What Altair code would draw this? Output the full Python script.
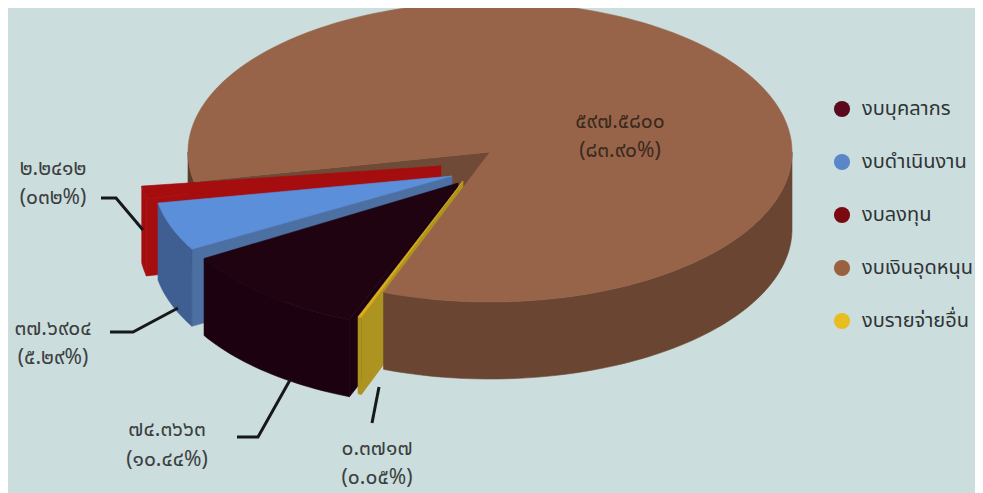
import math
import altair as alt
import pandas as pd

# ---- data ----
CATEGORIES = ["งบบุคลากร", "งบดำเนินงาน", "งบลงทุน", "งบเงินอุดหนุน", "งบรายจ่ายอื่น"]
VALUES = [74.3663, 37.6904, 2.2412, 597.5800, 0.3717]
VALUE_LABELS = ["๗๔.๓๖๖๓", "๓๗.๖๙๐๔", "๒.๒๔๑๒", "๕๙๗.๕๘๐๐", "๐.๓๗๑๗"]
SHARE_LABELS = ["(๑๐.๔๔%)", "(๕.๒๙%)", "(๐๓๒%)", "(๘๓.๙๐%)", "(๐.๐๕%)"]

# ---- styling / layout ----
BG = "#cbdddd"
FONT = "Noto Sans Thai, Noto Sans, Tahoma, sans-serif"
LEGEND_COLORS = ["#5a0a1c", "#5b86c8", "#7a0a10", "#99613f", "#e8bd20"]
W, H = 967, 485
CX, CY, RX, RY, DEPTH = 490, 152, 302, 150, 77
A0 = 11.4   # angle of the pie's notch, measured from the left, turning through the front

TOTAL = sum(VALUES)
SWEEP = {c: 360 * v / TOTAL for c, v in zip(CATEGORIES, VALUES)}

# tip offset, start angle and smallest drawn sweep of each pulled-out slice
SLICES = {
    "งบลงทุน": dict(dx=-49, dy=14, start=7.7, floor=5.0, r=1.0, top="#a60d0f", rim="#a60d0f", wall="#a60d0f"),
    "งบดำเนินงาน": dict(dx=-38, dy=24, start=10.5, floor=0, r=0.99, top="#5b8fd9", rim="#3f5f92", wall="#4d70a3"),
    "งบบุคลากร": dict(dx=-32, dy=31, start=30.9, floor=0, r=0.98, top="#1f0310", rim="#1c0210", wall="#1c0210"),
}
YELLOW = dict(dx=-27, dy=29, start=69.0, floor=0.7, r=0.97, top="#dcae1e", rim="#ad931f", wall="#ad931f")


def pt(cx, cy, a, r=1.0, drop=0):
    t = math.radians(a)
    return (cx - RX * r * math.cos(t), cy + RY * r * math.sin(t) + drop)


def arc(cx, cy, a, b, r=1.0, drop=0):
    n = max(2, int(abs(b - a) / 1.5) + 2)
    return [pt(cx, cy, a + (b - a) * i / (n - 1), r, drop) for i in range(n)]


polys = []  # (points, colour) in drawing order


def wedge_parts(s, name):
    tx, ty = CX + s["dx"], CY + s["dy"]
    a, b = s["start"], s["start"] + max(SWEEP[name], s["floor"])
    end = pt(tx, ty, b, s["r"])
    wall = [(tx, ty), end, (end[0], end[1] + DEPTH), (tx, ty + DEPTH)]
    rim = arc(tx, ty, a, b, s["r"]) + arc(tx, ty, b, a, s["r"], DEPTH)
    top = [(tx, ty)] + arc(tx, ty, a, b, s["r"])
    return wall, rim, top


# brown slice, back parts
brown_start = A0 + (TOTAL - VALUES[3]) / TOTAL * 360
brown_end = A0 + 360
edge = pt(CX, CY, A0)
polys.append(([(CX, CY), edge, (edge[0], edge[1] + DEPTH), (CX, CY + DEPTH)], "#6f4a36"))
polys.append((arc(CX, CY, 0, A0) + arc(CX, CY, A0, 0, 1.0, DEPTH), "#5e3c2a"))

for name in ["งบลงทุน", "งบดำเนินงาน", "งบบุคลากร"]:
    s = SLICES[name]
    wall, rim, top = wedge_parts(s, name)
    polys += [(wall, s["wall"]), (rim, s["rim"]), (top, s["top"])]

ywall, yrim, ytop = wedge_parts(YELLOW, "งบรายจ่ายอื่น")
polys += [(ywall, YELLOW["wall"]), (yrim, YELLOW["rim"])]

# brown rim and top cover the yellow wall's inner part
polys.append((arc(CX, CY, brown_start, 180) + arc(CX, CY, 180, brown_start, 1.0, DEPTH), "#6a4632"))
polys.append(([(CX, CY)] + arc(CX, CY, brown_start, brown_end), "#976449"))
polys.append((ytop, YELLOW["top"]))

x_scale = alt.Scale(domain=[8, 8 + W], range=[0, W], nice=False, zero=False)
y_scale = alt.Scale(domain=[8 + H, 8], range=[H, 0], nice=False, zero=False)
X = alt.X("x:Q", scale=x_scale, axis=None)
Y = alt.Y("y:Q", scale=y_scale, axis=None)

layers = []
for pts, colour in polys:
    df = pd.DataFrame([{"x": p[0], "y": p[1], "o": i} for i, p in enumerate(pts + [pts[0]])])
    layers.append(
        alt.Chart(df)
        .mark_line(fill=colour, stroke=colour, strokeWidth=0.6, interpolate="linear", clip=False)
        .encode(x=X, y=Y, order="o:Q")
    )

# leader lines
LEADERS = [
    [(237, 437), (258, 437), (290, 380)],
    [(110, 332), (133, 332), (178, 308)],
    [(101, 198), (116, 198), (143, 230)],
    [(372, 423), (379, 387)],
]
for line in LEADERS:
    df = pd.DataFrame([{"x": p[0], "y": p[1], "o": i} for i, p in enumerate(line)])
    layers.append(
        alt.Chart(df).mark_line(color="#16181a", strokeWidth=3).encode(x=X, y=Y, order="o:Q")
    )

# value labels
LABEL_POS = [(167, 430, 30), (53, 329, 29), (53, 169, 29), (620, 122, 29), (377, 449, 29)]
LABEL_COLOURS = ["#3c3f40", "#3c3f40", "#3c3f40", "#3a2a1e", "#3c3f40"]
rows = []
for (lx, ly, gap), v, s, c in zip(LABEL_POS, VALUE_LABELS, SHARE_LABELS, LABEL_COLOURS):
    rows.append({"x": lx, "y": ly, "t": v, "c": c})
    rows.append({"x": lx, "y": ly + gap, "t": s, "c": c})
layers.append(
    alt.Chart(pd.DataFrame(rows))
    .mark_text(font=FONT, fontSize=21, align="center", baseline="middle")
    .encode(x=X, y=Y, text="t:N", color=alt.Color("c:N", scale=None))
)

# legend
legend_df = pd.DataFrame({"cat": CATEGORIES, "x": [300] * 5, "y": [100] * 5})
layers.append(
    alt.Chart(legend_df)
    .mark_circle(opacity=0, size=10)
    .encode(
        x=X,
        y=Y,
        color=alt.Color(
            "cat:N",
            scale=alt.Scale(domain=CATEGORIES, range=LEGEND_COLORS),
            legend=alt.Legend(
                orient="none",
                legendX=824,
                legendY=91,
                title=None,
                symbolType="circle",
                symbolSize=260,
                symbolOpacity=1,
                symbolStrokeWidth=0,
                labelFont=FONT,
                labelFontSize=20,
                labelColor="#2f3436",
                labelOffset=10,
                rowPadding=33,
                labelLimit=200,
            ),
        ),
    )
)

chart = (
    alt.layer(*layers)
    .properties(width=W, height=H, background=BG, padding=0, autosize=alt.AutoSizeParams(type="none"))
    .configure_view(stroke=None)
)
chart.save("out.html", embed_options={"renderer": "svg", "actions": False})
